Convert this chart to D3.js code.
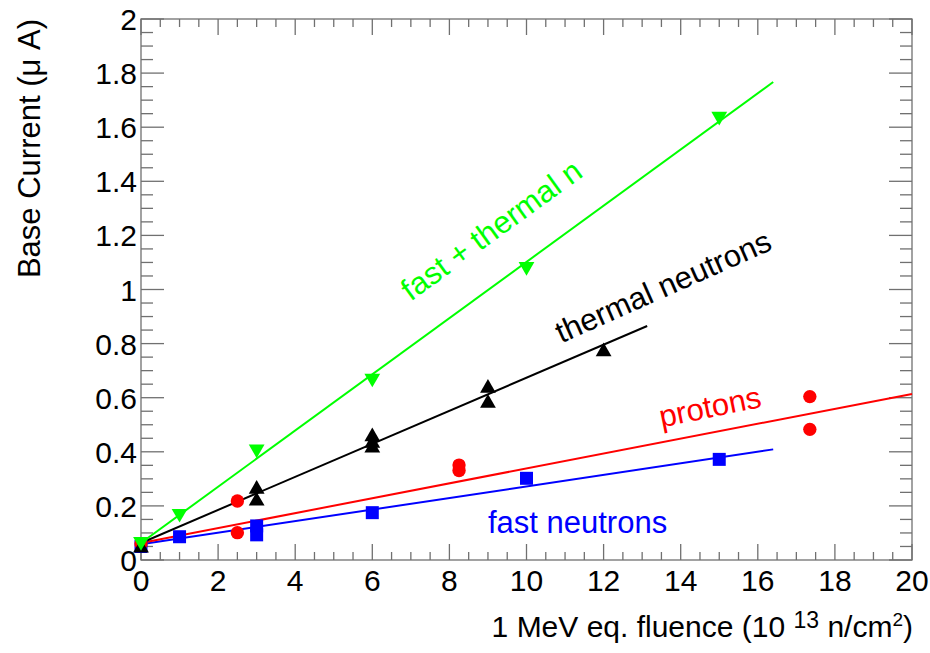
<!DOCTYPE html>
<html>
<head>
<meta charset="utf-8">
<script src="https://cdn.jsdelivr.net/npm/d3@7"></script>
<style>
  body { margin: 0; background: #fff; }
  svg { font-family: "Liberation Sans", Arial, sans-serif; }
</style>
</head>
<body>
<svg id="main" width="930" height="653"></svg>
<script>
// measured points, fluence in 1e13 n/cm2, current in uA
const fastThermalX = [0, 1, 3, 6, 10, 15];
const fastThermalY = [0.068, 0.172, 0.41, 0.672, 1.085, 1.64];

const thermalX = [0, 3, 3, 6, 6, 6, 9, 9, 12];
const thermalY = [0.045, 0.262, 0.218, 0.456, 0.432, 0.414, 0.635, 0.58, 0.77];

const protonX = [0, 2.5, 2.5, 8.25, 8.25, 17.35, 17.35];
const protonY = [0.06, 0.218, 0.101, 0.351, 0.331, 0.604, 0.483];

const fastX = [0, 1, 3, 3, 6, 10, 15];
const fastY = [0.05, 0.086, 0.126, 0.093, 0.175, 0.302, 0.372];

// fitted straight lines (start / end)
const fitFastThermal = { x: [0, 16.4], y: [0.063, 1.767] };
const fitThermal = { x: [0, 13.13], y: [0.063, 0.865] };
const fitProton = { x: [0, 20], y: [0.063, 0.614] };
const fitFast = { x: [0, 16.4], y: [0.058, 0.409] };

const xTicks = [0, 2, 4, 6, 8, 10, 12, 14, 16, 18, 20];
const yTicks = [0, 0.2, 0.4, 0.6, 0.8, 1, 1.2, 1.4, 1.6, 1.8, 2];

const svg = d3.select('svg#main');

const padL = 141, padR = 912, padT = 19, padB = 560;

const xScale = d3.scaleLinear().domain([0, 20]).range([padL, padR]);
const yScale = d3.scaleLinear().domain([0, 2]).range([padB, padT]);

const frameColor = '#707070';

// frame
svg.append('rect')
  .attr('x', padL)
  .attr('y', padT)
  .attr('width', padR - padL)
  .attr('height', padB - padT)
  .attr('fill', 'none')
  .attr('stroke', frameColor)
  .attr('stroke-width', 1.3);

// ticks on all four sides
const xMinor = d3.range(0, 20.001, 0.5);
const yMinor = d3.range(0, 2.0001, 0.05);
const isMajorX = v => Math.abs(v / 2 - Math.round(v / 2)) < 1e-6;
const isMajorY = v => Math.abs(v / 0.2 - Math.round(v / 0.2)) < 1e-6;

const ticks = svg.append('g').attr('stroke', frameColor).attr('stroke-width', 1.3);

ticks.selectAll('.xb').data(xMinor).enter().append('line')
  .attr('x1', d => xScale(d)).attr('x2', d => xScale(d))
  .attr('y1', padB).attr('y2', d => padB - (isMajorX(d) ? 16 : 8));
ticks.selectAll('.xt').data(xMinor).enter().append('line')
  .attr('x1', d => xScale(d)).attr('x2', d => xScale(d))
  .attr('y1', padT).attr('y2', d => padT + (isMajorX(d) ? 16 : 8));
ticks.selectAll('.yl').data(yMinor).enter().append('line')
  .attr('y1', d => yScale(d)).attr('y2', d => yScale(d))
  .attr('x1', padL).attr('x2', d => padL + (isMajorY(d) ? 23 : 12));
ticks.selectAll('.yr').data(yMinor).enter().append('line')
  .attr('y1', d => yScale(d)).attr('y2', d => yScale(d))
  .attr('x1', padR).attr('x2', d => padR - (isMajorY(d) ? 23 : 12));

// tick labels
svg.append('g').selectAll('text').data(xTicks).enter().append('text')
  .attr('x', d => xScale(d))
  .attr('y', 591)
  .attr('text-anchor', 'middle')
  .attr('font-size', 30)
  .text(d => d);

svg.append('g').selectAll('text').data(yTicks).enter().append('text')
  .attr('x', 137)
  .attr('y', d => yScale(d) + 11)
  .attr('text-anchor', 'end')
  .attr('font-size', 30)
  .text(d => d);

// axis titles
const xTitle = svg.append('text')
  .attr('x', 913)
  .attr('y', 637)
  .attr('text-anchor', 'end')
  .attr('font-size', 30);
xTitle.append('tspan').text('1 MeV eq. fluence (10 ');
xTitle.append('tspan').attr('font-size', 23).attr('dy', -9).text('13');
xTitle.append('tspan').attr('dy', 9).text(' n/cm');
xTitle.append('tspan').attr('font-size', 19).attr('dy', -11).text('2');
xTitle.append('tspan').attr('dy', 11).text(')');

svg.append('text')
  .attr('transform', 'translate(40, 19) rotate(-90)')
  .attr('text-anchor', 'end')
  .attr('font-size', 31)
  .text('Base Current (\u03bc A)');

// fit lines
const series = [
  { fit: fitFast, xs: fastX, ys: fastY, color: '#0000ff', shape: 'square' },
  { fit: fitProton, xs: protonX, ys: protonY, color: '#ff0000', shape: 'circle' },
  { fit: fitThermal, xs: thermalX, ys: thermalY, color: '#000000', shape: 'up' },
  { fit: fitFastThermal, xs: fastThermalX, ys: fastThermalY, color: '#00ff00', shape: 'down' }
];

const line = d3.line().x(d => xScale(d[0])).y(d => yScale(d[1]));

series.forEach(s => {
  svg.append('path')
    .attr('d', line(d3.zip(s.fit.x, s.fit.y)))
    .attr('fill', 'none')
    .attr('stroke', s.color)
    .attr('stroke-width', 2);
});

const symbols = {
  square: d3.symbol().type(d3.symbolSquare).size(169),
  circle: d3.symbol().type(d3.symbolCircle).size(140),
  up: d3.symbol().type(d3.symbolTriangle).size(108),
  down: d3.symbol().type(d3.symbolTriangle).size(108)
};

series.forEach(s => {
  svg.append('g').selectAll('path').data(d3.zip(s.xs, s.ys)).enter().append('path')
    .attr('d', symbols[s.shape]())
    .attr('transform', d => `translate(${xScale(d[0])}, ${yScale(d[1])})` + (s.shape === 'down' ? ' rotate(180)' : ''))
    .attr('fill', s.color);
});

// annotations
const labels = [
  { text: 'fast + thermal n', x: 7.0, y: 0.955, angle: -36, color: '#00ff00' },
  { text: 'thermal neutrons', x: 10.9, y: 0.8, angle: -24, color: '#000000' },
  { text: 'protons', x: 13.5, y: 0.49, angle: -11.5, color: '#ff0000' },
  { text: 'fast neutrons', x: 9.0, y: 0.1, angle: 0, color: '#0000ff' }
];

svg.append('g').selectAll('text').data(labels).enter().append('text')
  .attr('transform', d => `translate(${xScale(d.x)}, ${yScale(d.y)}) rotate(${d.angle})`)
  .attr('font-size', 31)
  .attr('fill', d => d.color)
  .text(d => d.text);
</script>
</body>
</html>
